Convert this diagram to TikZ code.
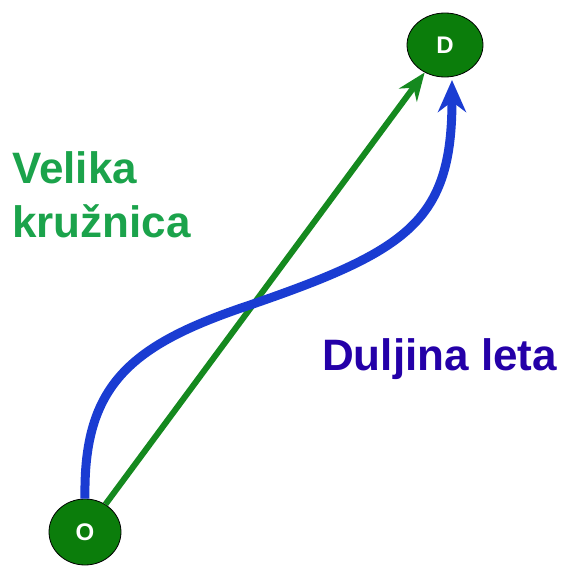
\documentclass[tikz,border=0pt]{standalone}
\usepackage{fontspec}
\setmainfont{Liberation Sans}
\usetikzlibrary{arrows.meta,shapes.geometric}
\definecolor{nodegreen}{HTML}{0B7D0B}
\definecolor{chord}{HTML}{15891F}
\definecolor{flight}{HTML}{1A3CD2}
\definecolor{labgreen}{HTML}{1BA34B}
\definecolor{labblue}{HTML}{2400A8}
\tikzset{
  city/.style={ellipse,draw=black,line width=0.8pt,fill=nodegreen,text=white,
    font=\fontsize{24}{24}\selectfont\bfseries,inner sep=0,minimum width=#1},
  biglabel/.style={anchor=base west,inner sep=0,font=\fontsize{44}{54}\selectfont\bfseries}
}

\begin{document}
\begin{tikzpicture}[x=1pt,y=-1pt]
\useasboundingbox (0,0) rectangle (587,570);
\node[city=72pt,minimum height=66pt] (O) at (85,532) {O};
\node[city=76pt,minimum height=64pt] (D) at (445,45) {D};
\coordinate (Dtip) at (452,80);
\draw[chord,line width=6pt,-{Stealth[length=28pt,width=22pt]}] (O) -- (D);
\draw[flight,line width=9pt,-{Stealth[length=32pt,width=28pt]}] (O.north) .. controls (83,385) and (130,345) .. (250,305) .. controls (410,250) and (452,220) .. (Dtip);
\node[biglabel,text=labgreen] (velika) at (12,183) {Velika};
\node[biglabel,text=labgreen] (kruznica) at (12,237) {kružnica};
\node[biglabel,text=labblue] (duljina) at (322,370) {Duljina leta};
\end{tikzpicture}
\end{document}
